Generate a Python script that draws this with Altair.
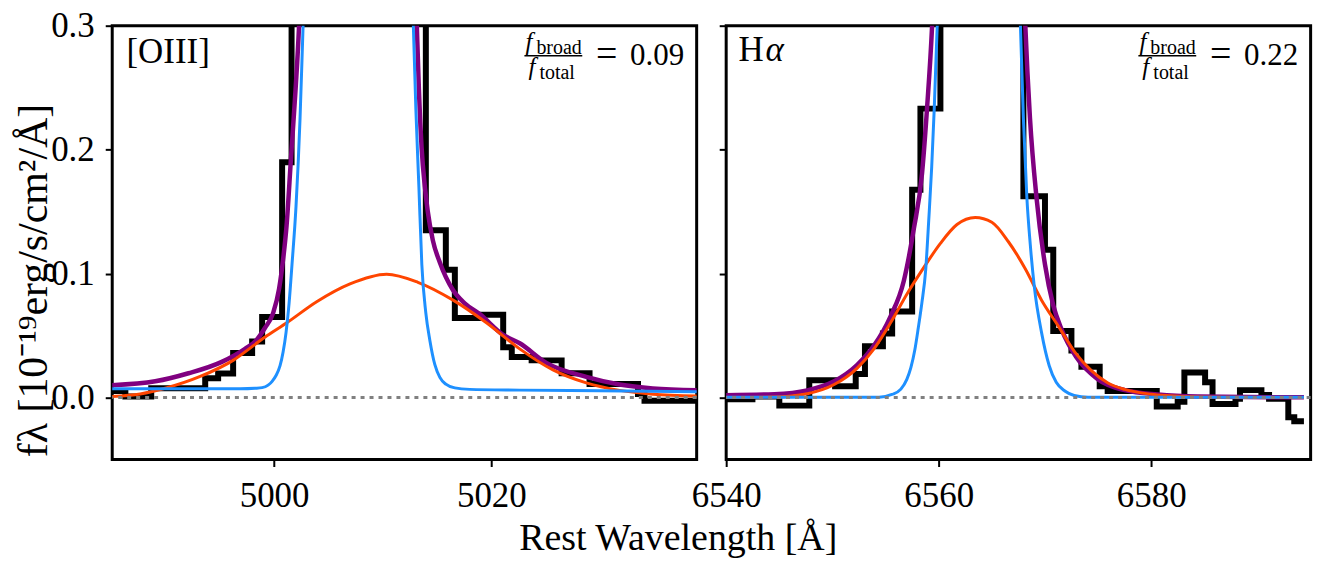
import altair as alt
import pandas as pd

FONT = "Liberation Serif"

# ---------------- [OIII] panel ----------------
o3_domain = [4985.1, 5038.9]
o3_ticks = [5000, 5020]
o3_edges = [4984.8, 4986.31, 4988.69, 4993.66, 4994.85, 4996.23, 4997.98, 4998.90, 5000.74,
            5001.61, 5013.97, 5015.81, 5016.64, 5018.93, 5021.09, 5021.88, 5023.71, 5026.47,
            5029.04, 5033.50, 5034.10, 5039.3]
o3_flux = [0.0053, 0.0009, 0.0076, 0.0155, 0.0194, 0.0359, 0.0453, 0.0650, 0.1899, 1.2,
           0.1349, 0.1031, 0.0642, 0.0669, 0.0406, 0.0328, 0.0300, 0.0196, 0.0110, 0.0029, -0.0026]

o3_narrow_l_x = [4985.08, 4993.20, 4996.88, 4998.25, 4998.90, 4999.45, 4999.82, 5000.18, 5000.55,
                 5000.83, 5001.10, 5001.38, 5001.65, 5002.02, 5002.39, 5002.67, 5002.76]
o3_narrow_l_y = [0.0071, 0.0071, 0.0071, 0.0075, 0.0080, 0.0100, 0.0131, 0.0178, 0.0257,
                 0.0367, 0.0524, 0.0760, 0.1074, 0.1545, 0.2252, 0.3000, 0.3236]
o3_narrow_r_x = [5012.73, 5012.82, 5013.05, 5013.33, 5013.60, 5013.97, 5014.34, 5014.80, 5015.26,
                 5015.81, 5016.64, 5018.01, 5022.61, 5029.96, 5038.94]
o3_narrow_r_y = [0.3236, 0.3000, 0.2331, 0.1702, 0.1074, 0.0681, 0.0461, 0.0265, 0.0163,
                 0.0108, 0.0078, 0.0066, 0.0060, 0.0054, 0.0046]

o3_total_l_x = [4985.08, 4989.06, 4992.12, 4995.19, 4997.33, 4998.35, 4999.17, 4999.91, 5000.46,
                5000.83, 5001.15, 5001.56, 5001.98, 5002.30, 5002.39]
o3_total_l_y = [0.0100, 0.0131, 0.0196, 0.0288, 0.0393, 0.0461, 0.0563, 0.0681, 0.0877,
                0.1113, 0.1388, 0.1938, 0.2488, 0.3000, 0.3195]
o3_total_r_x = [5013.07, 5013.14, 5013.33, 5013.58, 5013.88, 5014.15, 5014.61, 5015.26, 5016.45,
                5017.55, 5018.93, 5021.05, 5022.61, 5025.06, 5028.74, 5031.80, 5034.86, 5038.94]
o3_total_r_y = [0.3195, 0.3000, 0.2488, 0.2017, 0.1700, 0.1500, 0.1270, 0.1090, 0.0870,
                0.0760, 0.0673, 0.0508, 0.0438, 0.0280, 0.0167, 0.0105, 0.0074, 0.0060]

o3_broad_x = [4985.08, 4987.68, 4990.14, 4993.20, 4996.26, 4998.10, 4999.33, 5001.17, 5003.92,
              5006.99, 5010.36, 5013.24, 5016.48, 5019.55, 5022.61, 5025.67, 5028.74, 5031.80,
              5034.86, 5038.94]
o3_broad_y = [0.0009, 0.0029, 0.0079, 0.0170, 0.0302, 0.0419, 0.0498, 0.0603, 0.0773,
              0.0917, 0.0995, 0.0930, 0.0786, 0.0603, 0.0393, 0.0223, 0.0118, 0.0058,
              0.0027, 0.0013]

# ---------------- H-alpha panel ----------------
ha_domain = [6540.0, 6595.0]
ha_ticks = [6540, 6560, 6580]
ha_edges = [6539.7, 6542.47, 6545.00, 6547.82, 6550.25, 6552.19, 6553.06, 6554.75, 6555.62,
            6557.50, 6558.28, 6560.16, 6567.97, 6570.00, 6570.78, 6572.49, 6573.43, 6575.15,
            6575.90, 6580.52, 6582.49, 6583.12, 6585.07, 6585.77, 6587.93, 6588.35, 6590.37,
            6591.09, 6592.90, 6593.46, 6594.37]
ha_flux = [-0.0013, 0.0009, -0.0065, 0.0139, 0.0092, 0.0190, 0.0414, 0.0516, 0.0694, 0.1676,
           0.2331, 1.0, 0.1624, 0.1192, 0.0537, 0.0380, 0.0249, 0.0092, 0.0053, -0.0073,
           -0.0034, 0.0202, 0.0123, -0.0052, -0.0010, 0.0060, 0.0021, -0.0010, -0.0159, -0.0191]

ha_narrow_l_x = [6539.8, 6554.38, 6555.60, 6556.44, 6557.00, 6557.38, 6557.75, 6558.08, 6558.41,
                 6558.78, 6559.06, 6559.34, 6559.58, 6559.86, 6559.95]
ha_narrow_l_y = [0.0002, 0.0003, 0.0025, 0.0068, 0.0147, 0.0241, 0.0383, 0.0563, 0.0760,
                 0.1035, 0.1427, 0.1859, 0.2331, 0.3000, 0.3236]
ha_narrow_r_x = [6567.59, 6567.69, 6567.97, 6568.29, 6568.62, 6569.00, 6569.68, 6570.40, 6571.06,
                 6571.87, 6572.75, 6574.06, 6594.37]
ha_narrow_r_y = [0.3236, 0.3000, 0.2252, 0.1624, 0.1231, 0.0893, 0.0524, 0.0257, 0.0123,
                 0.0053, 0.0017, 0.0003, 0.0002]

ha_total_l_x = [6539.8, 6544.54, 6547.63, 6550.16, 6552.31, 6553.91, 6555.47, 6556.72, 6557.66,
                6558.43, 6558.90, 6559.37, 6559.48]
ha_total_l_y = [0.0019, 0.0027, 0.0058, 0.0131, 0.0262, 0.0419, 0.0655, 0.0943, 0.1362,
                0.1807, 0.2331, 0.2985, 0.3195]
ha_total_r_x = [6568.06, 6568.15, 6568.59, 6569.21, 6570.00, 6570.78, 6571.56, 6572.93, 6574.99,
                6577.50, 6580.62, 6584.37, 6594.37]
ha_total_r_y = [0.3195, 0.3000, 0.2252, 0.1608, 0.1074, 0.0744, 0.0550, 0.0328, 0.0147,
                0.0060, 0.0025, 0.0009, 0.0002]

ha_broad_x = [6539.8, 6544.54, 6547.63, 6550.16, 6552.31, 6553.91, 6555.47, 6557.03, 6558.59,
              6560.16, 6561.72, 6563.44, 6565.00, 6566.56, 6568.13, 6569.68, 6571.25, 6572.81,
              6574.37, 6575.93, 6577.50, 6579.99, 6583.12, 6587.18, 6594.37]
ha_broad_y = [0.0000, 0.0004, 0.0031, 0.0105, 0.0236, 0.0393, 0.0603, 0.0838, 0.1048,
              0.1244, 0.1396, 0.1453, 0.1414, 0.1257, 0.1042, 0.0786, 0.0577, 0.0367,
              0.0218, 0.0118, 0.0066, 0.0027, 0.0009, 0.0003, 0.0000]

y_domain = [-0.05, 0.3]
y_ticks = [0.0, 0.1, 0.2, 0.3]
labels = {"o3": "[OIII]", "ha": "H"}
fractions = {"o3": "0.09", "ha": "0.22"}

W, H = 586, 435
REF_TOP = 14.8  # annotation offsets measured from the frame top


def step_df(edges, flux):
    xs = list(edges[:-1]) + [edges[-1]]
    ys = list(flux) + [flux[-1]]
    return pd.DataFrame({"wl": xs, "f": ys})


def curve_df(branches):
    rows = []
    for i, (xs, ys) in enumerate(branches):
        for x, y in zip(xs, ys):
            rows.append({"wl": x, "f": y, "seg": i})
    return pd.DataFrame(rows)


def txt(s, x, y, size, italic=False, align="left"):
    kw = dict(font=FONT, fontSize=size, align=align, baseline="alphabetic", color="black")
    if italic:
        kw["fontStyle"] = "italic"
    return alt.Chart(pd.DataFrame({"t": [s]})).mark_text(**kw).encode(
        x=alt.value(x), y=alt.value(y - REF_TOP), text="t:N")


def panel(key, domain, ticks, edges, flux, narrow, total, broad, left):
    if left:
        xaxis = alt.Axis(values=ticks, format="d", title="Rest Wavelength [Å]",
                         titleX=567, titleY=90.5, titleBaseline="alphabetic",
                         titleAlign="center", labelPadding=40, labelBaseline="alphabetic",
                         labelFlush=False)
        yaxis = alt.Axis(values=y_ticks, format=".1f",
                         title="fλ [10⁻¹⁹erg/s/cm²/Å]", titleX=-66, titleY=255,
                         titleAngle=270, titleBaseline="alphabetic", titleAlign="center",
                         titleFontSize=42, labelPadding=11)
    else:
        xaxis = alt.Axis(values=ticks, format="d", title=None, labelPadding=40,
                         labelBaseline="alphabetic", labelFlush=False)
        yaxis = alt.Axis(values=y_ticks, labels=False, title=None)

    X = alt.X("wl:Q", scale=alt.Scale(domain=domain, nice=False, zero=False), axis=xaxis)
    Y = alt.Y("f:Q", scale=alt.Scale(domain=y_domain, nice=False, zero=False), axis=yaxis)

    step = alt.Chart(step_df(edges, flux)).mark_line(
        interpolate="step-after", clip=True, color="black", strokeWidth=6,
        strokeJoin="miter").encode(x=X, y=Y)

    def curve(branches, color, width):
        return alt.Chart(curve_df(branches)).mark_line(
            interpolate="monotone", clip=True, color=color, strokeWidth=width).encode(
            x=X, y=Y, detail="seg:N")

    c_total = curve(total, "purple", 4.5)
    c_broad = curve([broad], "orangered", 3)
    c_narrow = curve(narrow, "dodgerblue", 3)

    zero = alt.Chart(pd.DataFrame({"f": [0.0]})).mark_rule(
        color="gray", strokeWidth=3, strokeDash=[4, 5]).encode(y=Y)

    layers = [step, c_total, c_broad, c_narrow, zero]
    if key == "o3":
        layers.append(txt(labels[key], 14.3, 52, 35))
    else:
        layers.append(txt(labels[key], 12.3, 50, 35))
        layers.append(txt("α", 39.5, 50, 35, italic=True))
    # fraction f_broad / f_total = value
    layers.append(txt("f", 414.3, 39, 25, italic=True))
    layers.append(txt("broad", 425.3, 43, 20))
    layers.append(txt("f", 417.3, 64, 25, italic=True))
    layers.append(txt("total", 428.3, 68, 20))
    layers.append(alt.Chart(pd.DataFrame({"t": [0]})).mark_rule(
        color="black", strokeWidth=1.4).encode(
        x=alt.value(413.3), x2=alt.value(471.3), y=alt.value(45 - REF_TOP)))
    layers.append(txt("=", 495.8, 55, 38, align="center"))
    layers.append(txt(fractions[key], W - 12.5, 54, 31, align="right"))

    return alt.layer(*layers).properties(width=W, height=H)


left = panel("o3", o3_domain, o3_ticks, o3_edges, o3_flux,
             [(o3_narrow_l_x, o3_narrow_l_y), (o3_narrow_r_x, o3_narrow_r_y)],
             [(o3_total_l_x, o3_total_l_y), (o3_total_r_x, o3_total_r_y)],
             (o3_broad_x, o3_broad_y), True)
right = panel("ha", ha_domain, ha_ticks, ha_edges, ha_flux,
              [(ha_narrow_l_x, ha_narrow_l_y), (ha_narrow_r_x, ha_narrow_r_y)],
              [(ha_total_l_x, ha_total_l_y), (ha_total_r_x, ha_total_r_y)],
              (ha_broad_x, ha_broad_y), False)

chart = alt.hconcat(left, right, spacing=29.6, bounds="flush").properties(
    padding={"left": 2.5, "top": -2, "right": 5, "bottom": 5}
).configure(background="white").configure_view(
    stroke="black", strokeWidth=3
).configure_axis(
    labelFont=FONT, titleFont=FONT, labelFontSize=35, titleFontSize=38,
    labelColor="black", titleColor="black", tickColor="black", tickWidth=2,
    tickSize=7, domain=False, grid=False, titleFontWeight="normal"
)

chart.save("out.html", embed_options={"renderer": "svg", "actions": False})
